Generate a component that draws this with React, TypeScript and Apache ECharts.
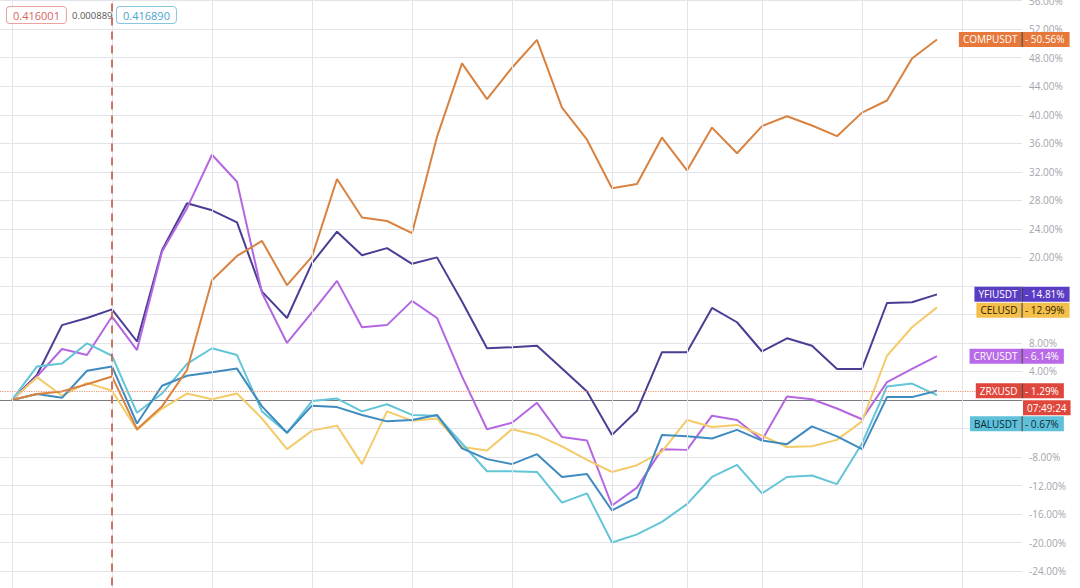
import React, { useEffect, useRef } from 'react';
import * as echarts from 'echarts';

// Percent change series (38 sessions)
const COMP = [0, 0.85, 1.2, 2.2, 3.3, -4.1, -0.9, 4.2, 16.8, 20.2, 22.3, 16.1, 20.1, 31.0, 25.6, 25.1, 23.4, 36.9, 47.2, 42.2, 46.6, 50.5, 41.0, 36.5, 29.7, 30.3, 36.8, 32.2, 38.2, 34.6, 38.4, 39.8, 38.5, 37.0, 40.3, 42.0, 47.9, 50.56];
const YFI = [0, 3.5, 10.5, 11.5, 12.7, 8.2, 21.0, 27.6, 26.6, 24.9, 15.2, 11.5, 19.2, 23.6, 20.3, 21.3, 19.1, 20.0, 13.8, 7.25, 7.4, 7.6, 4.4, 1.2, -4.9, -1.5, 6.7, 6.7, 12.9, 10.9, 6.8, 8.65, 7.6, 4.35, 4.35, 13.6, 13.7, 14.81];
const CRV = [0, 3.3, 7.15, 6.3, 11.7, 7.0, 20.8, 26.9, 34.4, 30.6, 15.0, 8.0, 12.3, 16.7, 10.2, 10.5, 13.9, 11.5, 3.3, -4.1, -3.2, -0.4, -5.2, -5.7, -14.8, -12.3, -6.9, -7.0, -2.2, -2.8, -5.6, 0.5, 0.1, -1.2, -2.7, 2.5, 4.35, 6.14];
const CEL = [0, 3.2, 0.6, 2.4, 1.3, -4.2, -1.2, 0.9, 0.1, 0.9, -2.6, -6.9, -4.3, -3.6, -9.0, -1.6, -2.9, -2.6, -6.6, -7.1, -4.1, -4.9, -6.5, -8.4, -10.1, -9.15, -7.25, -2.8, -3.8, -3.5, -5.0, -6.6, -6.5, -5.6, -3.0, 6.2, 10.2, 12.99];
const ZRX = [0, 0.85, 0.3, 4.1, 4.7, -3.3, 2.0, 3.4, 3.9, 4.4, -0.9, -4.6, -0.8, -1.0, -2.1, -3.0, -2.8, -2.1, -6.8, -8.3, -9.0, -7.6, -10.8, -10.4, -15.5, -13.65, -4.9, -5.1, -5.4, -4.2, -5.7, -6.2, -3.7, -5.1, -6.9, 0.4, 0.4, 1.29];
const BAL = [0, 4.7, 5.1, 7.95, 6.2, -1.8, 0.9, 5.05, 7.25, 6.3, -1.6, -4.6, -0.15, 0.2, -1.6, -0.6, -2.1, -2.2, -6.1, -10.0, -10.0, -10.1, -14.4, -13.1, -20.0, -18.85, -17.1, -14.6, -10.8, -9.1, -13.1, -10.8, -10.6, -11.8, -6.1, 1.9, 2.3, 0.67];

// Vertical time grid lines (session indices) and the crosshair session
const TIME_GRID = [0, 4, 8, 12, 16, 20, 24, 27, 30, 34, 38];
const CROSSHAIR_INDEX = 4;

// Top-left readout texts
const READ_LEFT = '0.416001';
const READ_MID = '0.000889';
const READ_RIGHT = '0.416890';
const COUNTDOWN = '07:49:24';

const SERIES = [
  { name: 'YFIUSDT', data: YFI, line: '#4b3d94', bg: '#5b3cc4', fg: '#ffffff' },
  { name: 'CRVUSDT', data: CRV, line: '#b467e0', bg: '#b86ae8', fg: '#ffffff' },
  { name: 'CELUSD', data: CEL, line: '#f3cb6a', bg: '#f4bf4a', fg: '#2e2300' },
  { name: 'BALUSDT', data: BAL, line: '#64c5d6', bg: '#5ec1d9', fg: '#0d2a3a' },
  { name: 'ZRXUSD', data: ZRX, line: '#3f8bbf', bg: '#e0473c', fg: '#ffffff', main: true },
  { name: 'COMPUSDT', data: COMP, line: '#d9823f', bg: '#e8773a', fg: '#ffffff' },
];

const FONT = '10px "Open Sans", sans-serif';

export default function App() {
  const ref = useRef<HTMLDivElement>(null);

  useEffect(() => {
    document.body.style.margin = '0';
    const chart = echarts.init(ref.current!, null, { renderer: 'svg' });

    const gridSeries: any = {
      name: 'grid',
      type: 'line',
      data: [],
      z: 0,
      silent: true,
      markLine: {
        silent: true,
        symbol: ['none', 'none'],
        label: { show: false },
        lineStyle: { color: '#e2e4ea', width: 1, type: 'solid' },
        data: TIME_GRID.map((v) => ({ xAxis: v })),
        animation: false,
      },
    };

    const lineSeries = SERIES.map((s) => {
      const o: any = {
        name: s.name,
        type: 'line',
        data: s.data.map((v, i) => [i, v]),
        symbol: 'none',
        showSymbol: false,
        silent: true,
        z: 3,
        lineStyle: { width: 2, color: s.line },
        itemStyle: { color: s.line },
      };
      if (s.main) {
        o.markLine = {
          silent: true,
          symbol: ['none', 'none'],
          label: { show: false },
          animation: false,
          data: [
            { yAxis: s.data[s.data.length - 1], lineStyle: { color: '#eb9a78', type: 'dotted', width: 1.2 } },
            { xAxis: CROSSHAIR_INDEX, lineStyle: { color: '#c4553d', type: [8, 6], width: 1.6 } },
          ],
        };
      }
      return o;
    });

    const baseLabel = {
      color: '#a3a4ac',
      fontSize: 10,
      fontFamily: '"Open Sans", sans-serif',
      margin: 7,
      showMinLabel: false,
    };

    chart.setOption({
      animation: false,
      backgroundColor: '#ffffff',
      grid: { left: 0, right: 58, top: 0.7, height: 598.9, containLabel: false, outerBoundsMode: 'none' },
      xAxis: {
        type: 'value',
        min: -0.48,
        max: 40.4,
        axisLabel: { show: false },
        axisTick: { show: false },
        splitLine: { show: false },
        axisLine: { show: true, onZero: true, lineStyle: { color: '#7a7b82', width: 1 } },
      },
      yAxis: {
        type: 'value',
        position: 'right',
        min: -28,
        max: 56,
        interval: 4,
        axisLine: { show: false },
        axisTick: { show: false },
        splitLine: { show: true, lineStyle: { color: '#e2e4ea', width: 1 } },
        axisLabel: { ...baseLabel, formatter: (v: number) => v.toFixed(2) + '%' },
      },
      series: [gridSeries, ...lineSeries],
    });

    // Right-hand value labels positioned from the y scale
    const H = 15;
    const GAP = 1;
    const xEdge = chart.convertToPixel({ xAxisIndex: 0 }, 40.4) as number;
    const items = SERIES.map((s) => {
      const last = s.data[s.data.length - 1];
      return { ...s, last, y: chart.convertToPixel({ yAxisIndex: 0 }, last) as number, top: 0, bottom: 0 };
    }).sort((a, b) => a.y - b.y);
    let prevBottom = -Infinity;
    items.forEach((it) => {
      let top = it.y - H / 2;
      if (top < prevBottom + GAP) top = prevBottom + GAP;
      it.top = top;
      it.bottom = top + H + (it.main ? H + 2 : 0);
      prevBottom = it.bottom;
    });

    // axis ticks whose label sits behind a value label are hidden, as in the reference
    const covered = (v: number) => {
      const py = chart.convertToPixel({ yAxisIndex: 0 }, v) as number;
      return items.some((it) => py >= it.top - 1 && py <= it.bottom + 3);
    };

    const graphic: any[] = [];
    items.forEach((it) => {
      const common = {
        fill: it.fg,
        backgroundColor: it.bg,
        font: FONT,
        lineHeight: 11,
        verticalAlign: 'top',
        padding: [2, 4, 2, 4],
      };
      graphic.push({
        type: 'text', x: xEdge - 0.5, y: it.top, z: 100, silent: true,
        style: { ...common, text: it.name, align: 'right' },
      });
      graphic.push({
        type: 'text', x: xEdge, y: it.top, z: 100, silent: true,
        style: { ...common, text: '- ' + it.last.toFixed(2) + '%', align: 'left', padding: [2, 5, 2, 3] },
      });
      graphic.push({
        type: 'line', z: 101, silent: true,
        shape: { x1: xEdge, y1: it.top, x2: xEdge, y2: it.top + H },
        style: { stroke: '#2a2a2a', lineWidth: 1 },
      });
      if (it.main) {
        graphic.push({
          type: 'text', x: xEdge + 1, y: it.top + H + 2, z: 100, silent: true,
          style: { ...common, text: COUNTDOWN, align: 'left', padding: [2, 4, 2, 4] },
        });
      }
    });

    // Top-left readouts
    graphic.push({
      type: 'text', x: 7, y: 7, z: 100, silent: true,
      style: {
        text: READ_LEFT, fill: '#d9625c', font: '11px "Open Sans", sans-serif', lineHeight: 11,
        verticalAlign: 'top', backgroundColor: '#ffffff', borderColor: '#e7a3a0', borderWidth: 1,
        borderRadius: 3, padding: [3, 6, 2, 6],
      },
    });
    graphic.push({
      type: 'text', x: 72, y: 15, z: 100, silent: true,
      style: { text: READ_MID, fill: '#555555', font: '9.5px "Open Sans", sans-serif', verticalAlign: 'middle' },
    });
    graphic.push({
      type: 'text', x: 117, y: 7, z: 100, silent: true,
      style: {
        text: READ_RIGHT, fill: '#4aa3cc', font: '11px "Open Sans", sans-serif', lineHeight: 11,
        verticalAlign: 'top', backgroundColor: '#ffffff', borderColor: '#86c4e0', borderWidth: 1,
        borderRadius: 3, padding: [3, 6, 2, 6],
      },
    });

    chart.setOption({
      yAxis: {
        axisLabel: { ...baseLabel, formatter: (v: number) => (covered(v) ? '' : v.toFixed(2) + '%') },
      },
      graphic,
    });

    return () => chart.dispose();
  }, []);

  return (
    <div
      ref={ref}
      style={{ position: 'absolute', left: 0, top: 0, width: 1080, height: 588 }}
    />
  );
}
